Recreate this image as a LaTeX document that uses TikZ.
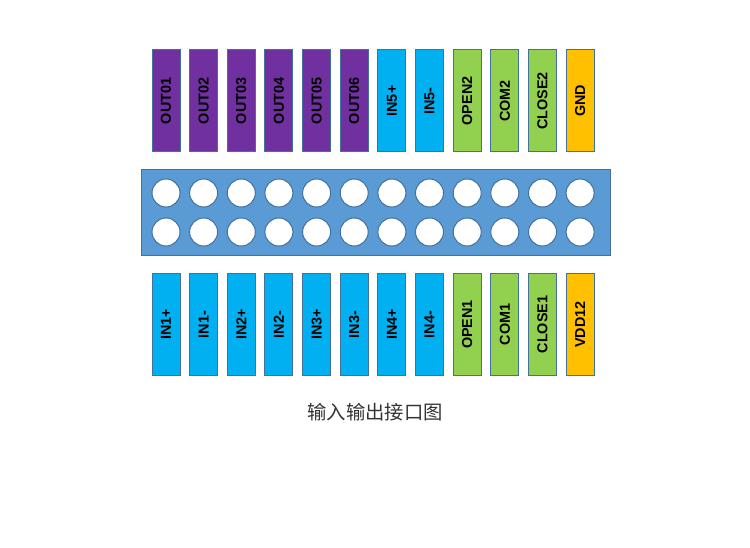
\documentclass[tikz,border=0pt]{standalone}
\usepackage{fontspec}
\setmainfont{Liberation Sans}
\newfontfamily\cjk{Noto Sans CJK SC}
\definecolor{outpurple}{RGB}{112,48,160}
\definecolor{inblue}{RGB}{0,176,240}
\definecolor{relaygreen}{RGB}{146,208,80}
\definecolor{pwrorange}{RGB}{255,192,0}
\definecolor{barblue}{RGB}{91,155,213}
\definecolor{edgeblue}{RGB}{65,113,156}
\tikzset{
  pin/.style={draw=edgeblue, line width=0.75pt, rotate=90, minimum width=76.5pt, minimum height=21pt, inner sep=0pt, font=\bfseries\fontsize{10.8}{12}\selectfont},
  hole/.style={draw=edgeblue, line width=0.75pt, fill=white},
}
\begin{document}
\begin{tikzpicture}[x=0.75pt,y=0.75pt,yscale=-1,xscale=1]
\useasboundingbox (0,0) rectangle (750,548);

%Top row of terminals
\node [pin, fill=outpurple] (out1) at (166,101) {OUT01};
\node [pin, fill=outpurple] (out2) at (203.6,101) {OUT02};
\node [pin, fill=outpurple] (out3) at (241.3,101) {OUT03};
\node [pin, fill=outpurple] (out4) at (278.9,101) {OUT04};
\node [pin, fill=outpurple] (out5) at (316.6,101) {OUT05};
\node [pin, fill=outpurple] (out6) at (354.2,101) {OUT06};
\node [pin, fill=inblue] (in5p) at (391.9,101) {IN5+};
\node [pin, fill=inblue] (in5m) at (429.5,101) {IN5-};
\node [pin, fill=relaygreen] (open2) at (467.2,101) {OPEN2};
\node [pin, fill=relaygreen] (com2) at (504.8,101) {COM2};
\node [pin, fill=relaygreen] (close2) at (542.5,101) {CLOSE2};
\node [pin, fill=pwrorange] (gnd) at (580.1,101) {GND};

%Shape: Rectangle (connector body)
\draw [draw=edgeblue, fill=barblue, line width=0.75pt] (141,170) -- (610,170) -- (610,256) -- (141,256) -- cycle ;

%Holes, upper row
\draw [hole] (166,193) circle (14);
\draw [hole] (203.6,193) circle (14);
\draw [hole] (241.3,193) circle (14);
\draw [hole] (278.9,193) circle (14);
\draw [hole] (316.6,193) circle (14);
\draw [hole] (354.2,193) circle (14);
\draw [hole] (391.9,193) circle (14);
\draw [hole] (429.5,193) circle (14);
\draw [hole] (467.2,193) circle (14);
\draw [hole] (504.8,193) circle (14);
\draw [hole] (542.5,193) circle (14);
\draw [hole] (580.1,193) circle (14);
%Holes, lower row
\draw [hole] (166,232) circle (14);
\draw [hole] (203.6,232) circle (14);
\draw [hole] (241.3,232) circle (14);
\draw [hole] (278.9,232) circle (14);
\draw [hole] (316.6,232) circle (14);
\draw [hole] (354.2,232) circle (14);
\draw [hole] (391.9,232) circle (14);
\draw [hole] (429.5,232) circle (14);
\draw [hole] (467.2,232) circle (14);
\draw [hole] (504.8,232) circle (14);
\draw [hole] (542.5,232) circle (14);
\draw [hole] (580.1,232) circle (14);

%Bottom row of terminals
\node [pin, fill=inblue] (in1p) at (166,324.5) {IN1+};
\node [pin, fill=inblue] (in1m) at (203.6,324.5) {IN1-};
\node [pin, fill=inblue] (in2p) at (241.3,324.5) {IN2+};
\node [pin, fill=inblue] (in2m) at (278.9,324.5) {IN2-};
\node [pin, fill=inblue] (in3p) at (316.6,324.5) {IN3+};
\node [pin, fill=inblue] (in3m) at (354.2,324.5) {IN3-};
\node [pin, fill=inblue] (in4p) at (391.9,324.5) {IN4+};
\node [pin, fill=inblue] (in4m) at (429.5,324.5) {IN4-};
\node [pin, fill=relaygreen] (open1) at (467.2,324.5) {OPEN1};
\node [pin, fill=relaygreen] (com1) at (504.8,324.5) {COM1};
\node [pin, fill=relaygreen] (close1) at (542.5,324.5) {CLOSE1};
\node [pin, fill=pwrorange] (vdd) at (580.1,324.5) {VDD12};

% Text Node
\node [font=\cjk\fontsize{14.5}{17}\selectfont, color=black!80] (caption) at (375,412) {输入输出接口图};

\end{tikzpicture}
\end{document}
